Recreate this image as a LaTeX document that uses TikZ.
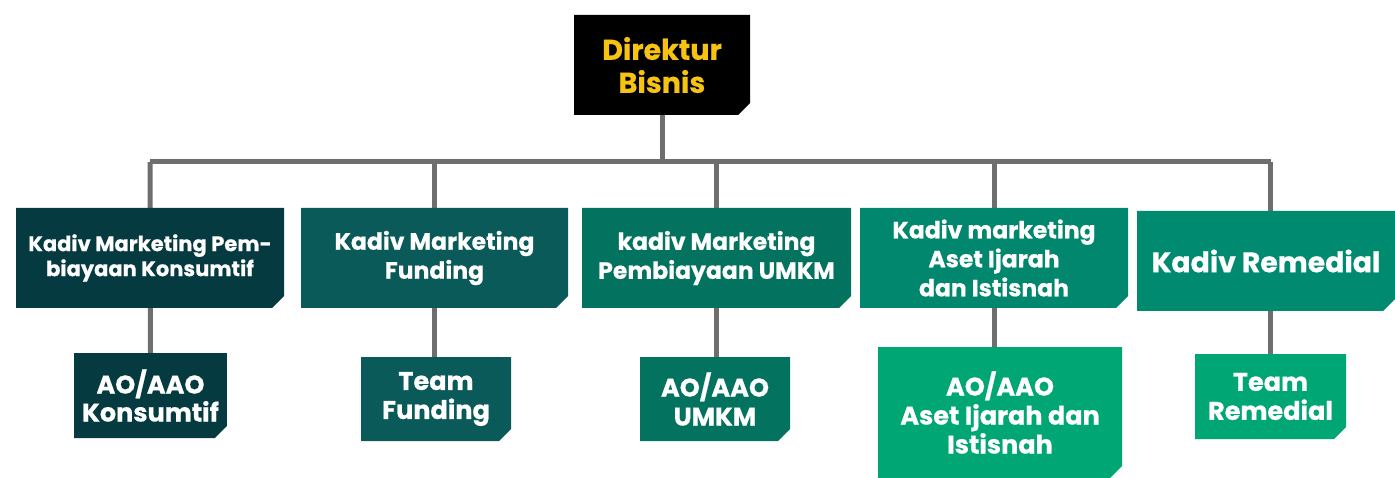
\documentclass[tikz,border=0pt]{standalone}
\usepackage{fontspec}
\setmainfont{Poppins}[BoldFeatures={FakeBold=0.6}]
\usetikzlibrary{shapes.misc,backgrounds}
\definecolor{cdir}{HTML}{000000}
\definecolor{cyel}{HTML}{F6C312}
\definecolor{cA}{HTML}{053B40}
\definecolor{cB}{HTML}{0B5A5A}
\definecolor{cC}{HTML}{03735F}
\definecolor{cD}{HTML}{00876E}
\definecolor{cE}{HTML}{008A70}
\definecolor{cF}{HTML}{00A673}
\definecolor{cline}{HTML}{6E6E6E}
\tikzset{
  box/.style={chamfered rectangle, chamfered rectangle corners=south east,
    chamfered rectangle xsep=8pt, chamfered rectangle ysep=4pt,
    inner sep=0pt, align=center, text=white, font=\bfseries,
    minimum width=#1},
  conn/.style={draw=cline, line width=5pt},
}
\begin{document}
\begin{tikzpicture}[x=1pt,y=-1pt]
\useasboundingbox (0,0) rectangle (1395,478);
% director
\node[box=176pt, minimum height=100pt, fill=cdir, text=cyel, font=\bfseries\fontsize{28.5}{33}\selectfont] (dir) at (662,65) {Direktur\\Bisnis};
% top row
\node[box=268pt, minimum height=100pt, fill=cA, font=\bfseries\fontsize{21}{25}\selectfont] (k1) at (150,258) {Kadiv Marketing Pem-\\biayaan Konsumtif};
\node[box=267pt, minimum height=100pt, fill=cB, font=\bfseries\fontsize{23.5}{29}\selectfont] (k2) at (434.5,258) {Kadiv Marketing\\Funding};
\node[box=269pt, minimum height=100pt, fill=cC, font=\bfseries\fontsize{23.5}{29}\selectfont] (k3) at (716.5,258) {kadiv Marketing\\Pembiayaan UMKM};
\node[box=268pt, minimum height=100pt, fill=cD, font=\bfseries\fontsize{23.5}{29}\selectfont] (k4) at (994,258) {Kadiv marketing\\Aset Ijarah\\dan Istisnah};
\node[box=258pt, minimum height=100pt, fill=cE, font=\bfseries\fontsize{28.3}{33}\selectfont] (k5) at (1266,261) {Kadiv Remedial};
% bottom row
\node[box=151pt, minimum height=85pt, fill=cA, font=\bfseries\fontsize{25.5}{28}\selectfont] (a1) at (150.5,395.5) {AO/AAO\\Konsumtif};
\node[box=150pt, minimum height=84pt, fill=cB, font=\bfseries\fontsize{25.5}{29}\selectfont] (a2) at (436,399) {Team\\Funding};
\node[box=150pt, minimum height=84pt, fill=cC, font=\bfseries\fontsize{25.5}{29}\selectfont] (a3) at (715,399) {AO/AAO\\UMKM};
\node[box=244pt, minimum height=131pt, fill=cF, font=\bfseries\fontsize{25.5}{29}\selectfont] (a4) at (1000,412.5) {AO/AAO\\Aset Ijarah dan\\Istisnah};
\node[box=151pt, minimum height=85pt, fill=cF, font=\bfseries\fontsize{25.5}{29}\selectfont] (a5) at (1270.5,396.5) {Team\\Remedial};
\coordinate (bus) at (662,162);
\begin{scope}[on background layer]
\draw[conn] (dir.center) -- (bus);
\draw[conn] (k1.center |- bus) -- (a5.center |- bus);
\draw[conn] (k1.center |- bus) -- (a1.center);
\draw[conn] (k2.center |- bus) -- (k2.center |- a2.center);
\draw[conn] (k3.center |- bus) -- (k3.center |- a3.center);
\draw[conn] (k4.center |- bus) -- (k4.center |- a4.center);
\draw[conn] (a5.center |- bus) -- (a5.center);
\end{scope}
\end{tikzpicture}
\end{document}
